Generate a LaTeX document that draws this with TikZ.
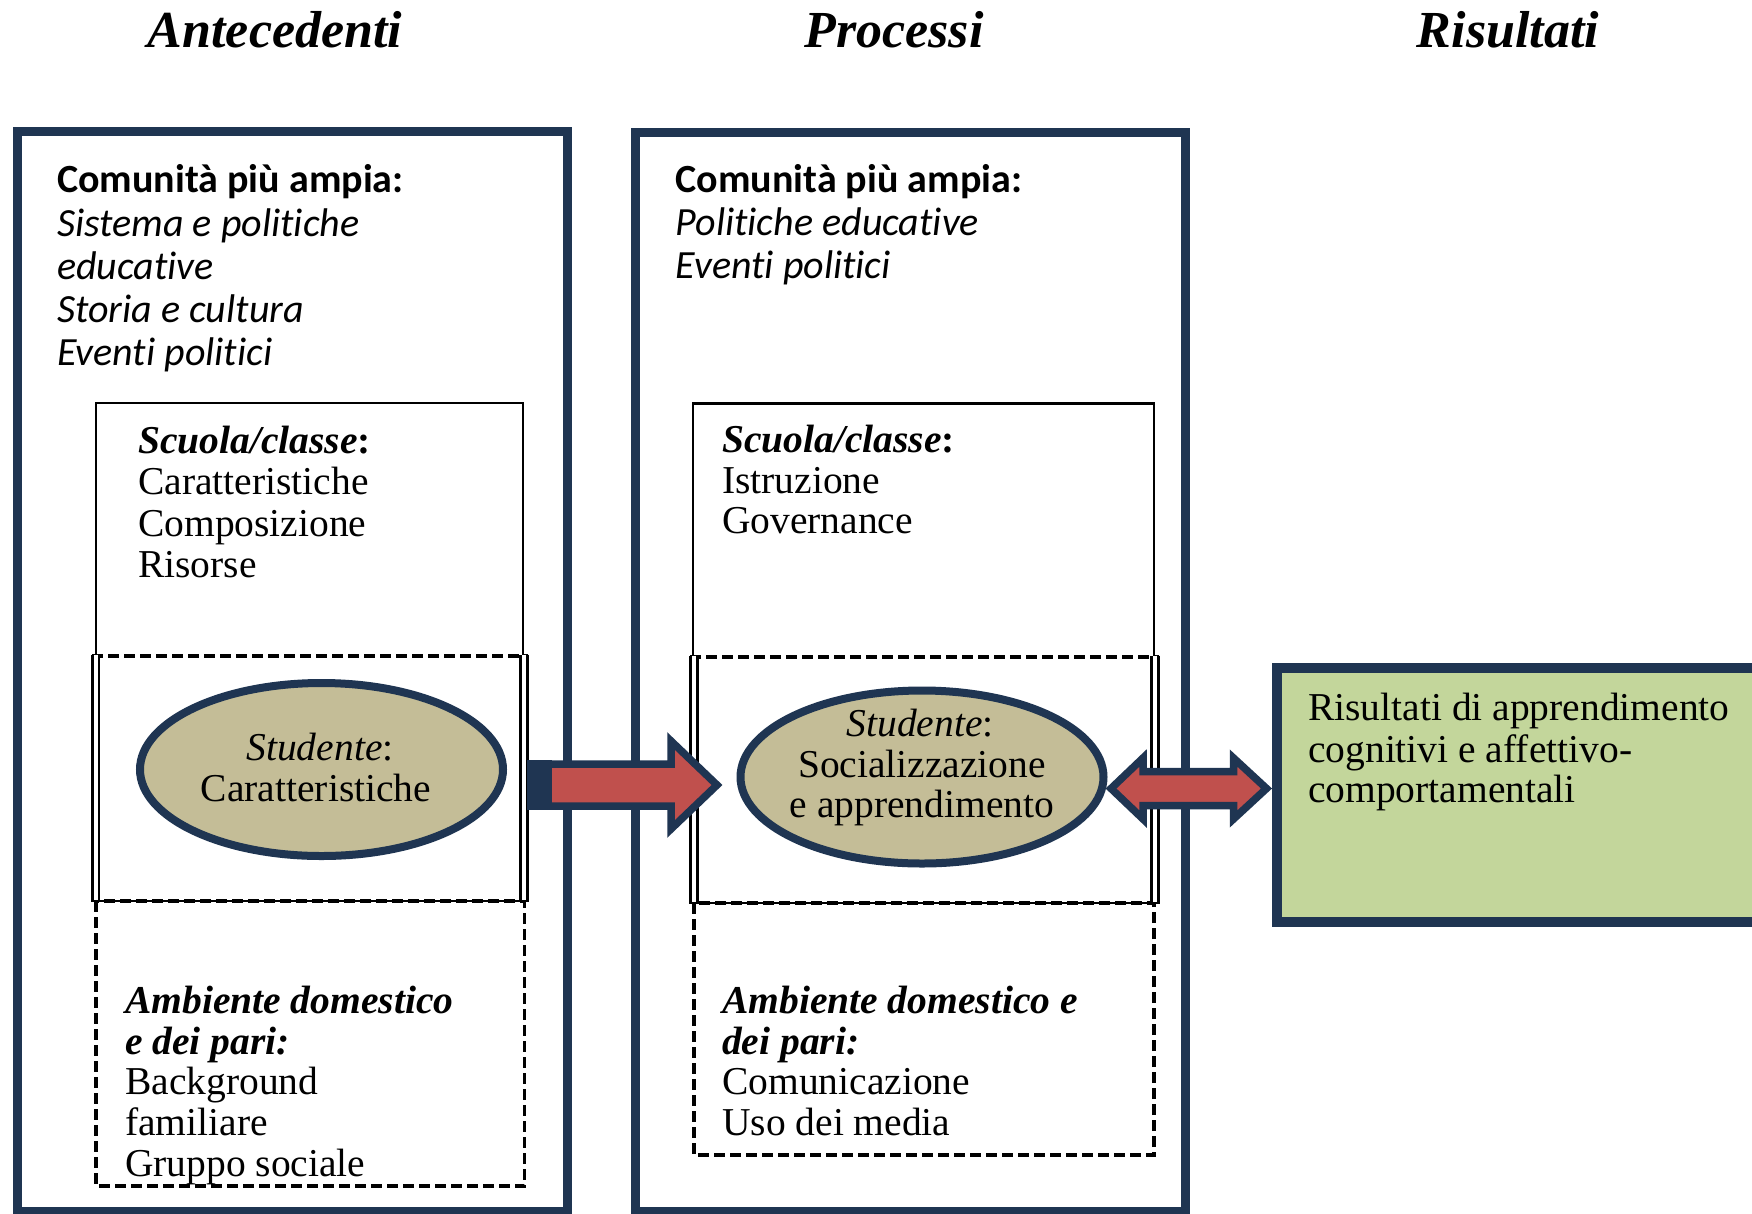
\documentclass[tikz,border=0pt]{standalone}
\usepackage{fontspec}
\setmainfont{Liberation Serif}
\newfontfamily\calibfont[Ligatures=NoCommon]{Carlito}
\usetikzlibrary{shapes.geometric}
\definecolor{navy}{RGB}{31,53,82}
\definecolor{eltan}{RGB}{196,189,151}
\definecolor{arrred}{RGB}{192,80,77}
\definecolor{resgreen}{RGB}{195,214,155}
\begin{document}
\begin{tikzpicture}[x=1pt,y=-1pt,
  outerbox/.style={draw=navy, line width=9pt},
  inbox/.style={draw=black, line width=2.8pt},
  dashbox/.style={draw=black, line width=3.6pt, dash pattern=on 11pt off 5pt},
  dblline/.style={draw=black, double=white, double distance=4pt, line width=2.6pt},
  txt/.style={anchor=base west, inner sep=0pt, font=\fontsize{39.5}{41.5}\selectfont},
  ctxt/.style={anchor=base, inner sep=0pt, font=\fontsize{39.5}{41.5}\selectfont},
  cal/.style={anchor=base west, inner sep=0pt, font=\calibfont\fontsize{40}{43.5}\selectfont},
  heading/.style={anchor=base, inner sep=0pt, font=\fontsize{52}{56}\selectfont\bfseries\itshape},
  stud/.style={ellipse, draw=navy, line width=8pt, fill=eltan, minimum width=363pt, minimum height=173pt, inner sep=0pt},
  blockarrow/.style={fill=arrred, draw=navy, line width=7.5pt, line join=miter, miter limit=10}
]
\clip (0,0) rectangle (1752,1213);
\fill[white] (0,0) rectangle (1752,1213);

% headings
\node[heading] (h1) at (275,47) {Antecedenti};
\node[heading] (h2) at (894,47) {Processi};
\node[heading] (h3) at (1508,47) {Risultati};

% outer boxes
\draw[outerbox] (17.5,131.5) rectangle (567,1211);
\draw[outerbox] (635,132.5) rectangle (1185.5,1211);

% ---------- left column ----------
\node[cal] (lc0) at (57,192) {\bfseries Comunità più ampia:};
\node[cal] (lc1) at (57,236) {\itshape Sistema e politiche};
\node[cal] (lc2) at (57,279) {\itshape educative};
\node[cal] (lc3) at (57,322) {\itshape Storia e cultura};
\node[cal] (lc4) at (57,365) {\itshape Eventi politici};

\draw[inbox] (96,656) -- (96,403) -- (523,403) -- (523,656);
\node[txt] (ls0) at (138,453) {\textbf{\textit{Scuola/classe}:}};
\node[txt] (ls1) at (138,494.5) {Caratteristiche};
\node[txt] (ls2) at (138,536) {Composizione};
\node[txt] (ls3) at (138,577) {Risorse};

\draw[dashbox] (96,901) rectangle (524.5,1186);
\draw[dashbox] (92,656) -- (527.5,656);
\draw[dblline] (95.5,654.5) -- (95.5,902);
\draw[dblline] (524,654.5) -- (524,902);
\draw[inbox] (92,901) -- (527.5,901);

\node[txt] (la0) at (125,1013) {\textbf{\textit{Ambiente domestico}}};
\node[txt] (la1) at (125,1054) {\textbf{\textit{e dei pari:}}};
\node[txt] (la2) at (125,1094) {Background};
\node[txt] (la3) at (125,1135) {familiare};
\node[txt] (la4) at (125,1176) {Gruppo sociale};

\node[stud] (ellL) at (321.5,769.5) {};
\node[ctxt] (ell1) at (320,760) {\textit{Studente}:};
\node[ctxt] (ell2) at (316,801.5) {Caratteristiche};

% ---------- middle column ----------
\node[cal] (mc0) at (675.5,192) {\bfseries Comunità più ampia:};
\node[cal] (mc1) at (675.5,235.5) {\itshape Politiche educative};
\node[cal] (mc2) at (675.5,278.5) {\itshape Eventi politici};

\draw[inbox] (693,657) -- (693,403.5) -- (1154,403.5) -- (1154,657);
\node[txt] (ms0) at (722,452) {\textbf{\textit{Scuola/classe}:}};
\node[txt] (ms1) at (722,493) {Istruzione};
\node[txt] (ms2) at (722,533) {Governance};

\draw[dashbox] (694,903) rectangle (1154,1155);
\draw[dashbox] (690,657) -- (1158.5,657);
\draw[dblline] (694,655.5) -- (694,904);
\draw[dblline] (1155,655.5) -- (1155,904);
\draw[inbox] (690,903) -- (1158.5,903);

\node[txt] (ma0) at (722,1013) {\textbf{\textit{Ambiente domestico e}}};
\node[txt] (ma1) at (722,1054) {\textbf{\textit{dei pari:}}};
\node[txt] (ma2) at (722,1094) {Comunicazione};
\node[txt] (ma3) at (722,1135) {Uso dei media};

\node[stud] (ellM) at (922,777) {};
\node[ctxt] (em1) at (920,736) {\textit{Studente}:};
\node[ctxt] (em2) at (922,777.5) {Socializzazione};
\node[ctxt] (em3) at (922,817) {e apprendimento};

% ---------- results ----------
\draw[draw=navy, line width=10pt, fill=resgreen] (1277,668) rectangle (1800,922);
\node[txt] (r1) at (1308,720) {Risultati di apprendimento};
\node[txt] (r2) at (1308,762) {cognitivi e affettivo-};
\node[txt] (r3) at (1308,802) {comportamentali};

% ---------- arrows ----------
\fill[navy] (527,760) rectangle (552,809.5);
\draw[blockarrow] (548,764) -- (671,764) -- (671,741) -- (717,785) -- (671,829) -- (671,806) -- (548,806) -- cycle;

\draw[blockarrow] (1111,788.5) -- (1143,758) -- (1143,771.5) -- (1233.5,771.5) -- (1233.5,758)
  -- (1266.5,788.5) -- (1233.5,819) -- (1233.5,805.5) -- (1143,805.5) -- (1143,819) -- cycle;
\end{tikzpicture}
\end{document}
